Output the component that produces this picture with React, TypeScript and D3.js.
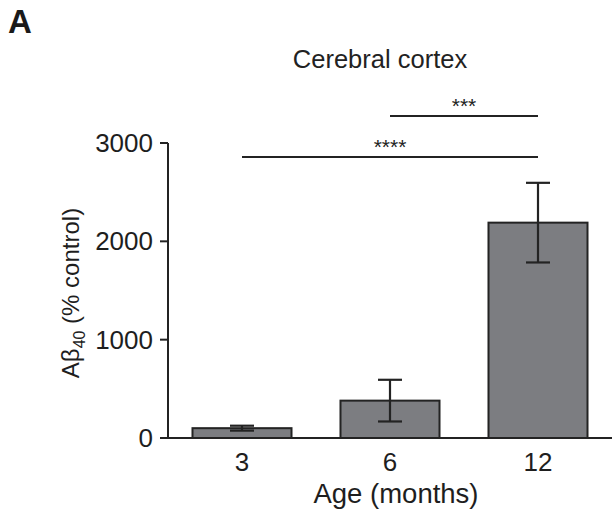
import React from "react";
import * as d3 from "d3";

const categories = ["3", "6", "12"];
const means = [100, 380, 2190];
const sems = [25, 212, 405];
const yTicks = [0, 1000, 2000, 3000];
const sigPairs: [number, number, string][] = [
  [1, 2, "***"],
  [0, 2, "****"],
];

const W = 612;
const H = 511;
const FONT = "'Liberation Sans', Arial, Helvetica, sans-serif";

export default function App() {
  const x = d3
    .scaleBand<string>()
    .domain(categories)
    .range([168, 612])
    .paddingInner(0.331)
    .paddingOuter(0.1655);
  const y = d3.scaleLinear().domain([0, 3000]).range([438, 143]);
  const cx = (i: number) => (x(categories[i]) as number) + x.bandwidth() / 2;
  const sigY = [116, 157];
  const dark = "#232323";
  const capW = 24;

  return (
    <svg
      width={W}
      height={H}
      style={{ position: "absolute", left: 0, top: 0, background: "#fff" }}
      fontFamily={FONT}
    >
      <rect x={0} y={0} width={W} height={H} fill="#fff" />
      <text x={8} y={33} fontSize={33} fontWeight="bold" fill="#1a1a1a">
        A
      </text>
      <text x={380} y={68} fontSize={25.5} textAnchor="middle" fill="#222">
        Cerebral cortex
      </text>

      {/* bars */}
      {categories.map((c, i) => (
        <rect
          key={c}
          x={x(c)}
          y={y(means[i])}
          width={x.bandwidth()}
          height={y(0) - y(means[i])}
          fill="#7c7d81"
          stroke={dark}
          strokeWidth={2}
        />
      ))}

      {/* error bars */}
      {categories.map((c, i) => {
        const xc = cx(i);
        const top = y(means[i] + sems[i]);
        const bot = y(means[i] - sems[i]);
        return (
          <g key={"e" + c} stroke={dark} strokeWidth={2.2}>
            <line x1={xc} x2={xc} y1={top} y2={bot} />
            <line x1={xc - capW / 2} x2={xc + capW / 2} y1={top} y2={top} />
            <line x1={xc - capW / 2} x2={xc + capW / 2} y1={bot} y2={bot} />
          </g>
        );
      })}

      {/* axes */}
      <line x1={168} x2={612} y1={y(0)} y2={y(0)} stroke={dark} strokeWidth={2} />
      <line x1={168} x2={168} y1={y(3000)} y2={y(0)} stroke={dark} strokeWidth={2} />
      {yTicks.map((t) => (
        <g key={"t" + t}>
          <line x1={160} x2={168} y1={y(t)} y2={y(t)} stroke={dark} strokeWidth={2} />
          <text
            x={153}
            y={y(t) + 9}
            fontSize={26}
            textAnchor="end"
            fill="#1e1e1e"
          >
            {t}
          </text>
        </g>
      ))}
      {categories.map((c, i) => (
        <text
          key={"x" + c}
          x={cx(i)}
          y={471}
          fontSize={26}
          textAnchor="middle"
          fill="#1e1e1e"
        >
          {c}
        </text>
      ))}
      <text x={396} y={503} fontSize={27.5} textAnchor="middle" fill="#1e1e1e">
        Age (months)
      </text>
      <text
        transform={`translate(79,293) rotate(-90)`}
        fontSize={24}
        textAnchor="middle"
        fill="#1e1e1e"
      >
        Aβ
        <tspan fontSize={16} dy={6}>
          40
        </tspan>
        <tspan dy={-6}> (% control)</tspan>
      </text>

      {/* significance */}
      {sigPairs.map(([a, b, label], k) => {
        const x1 = cx(a);
        const x2 = cx(b);
        const yy = sigY[k];
        return (
          <g key={"s" + k}>
            <line x1={x1} x2={x2} y1={yy} y2={yy} stroke={dark} strokeWidth={2} />
            <text
              x={(x1 + x2) / 2}
              y={yy - 3}
              fontSize={21}
              textAnchor="middle"
              fill="#222"
            >
              {label}
            </text>
          </g>
        );
      })}
    </svg>
  );
}
